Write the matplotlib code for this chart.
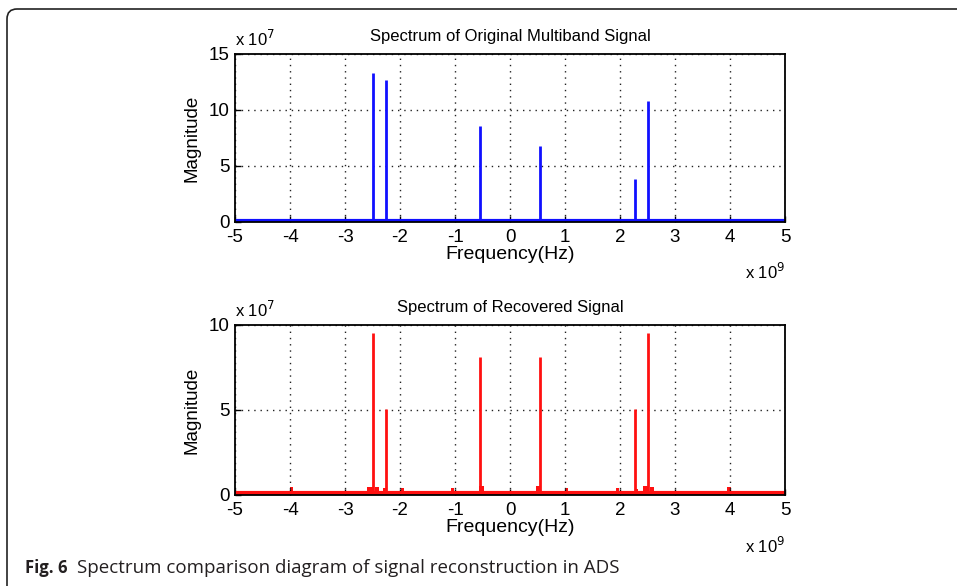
import matplotlib.pyplot as plt
from matplotlib.patches import FancyBboxPatch

# frequencies in units of 1e9 Hz, magnitudes in units of 1e7
orig_freq = [-2.5, -2.26, -0.55, 0.55, 2.27, 2.5]
orig_mag = [13.3, 12.7, 8.6, 6.8, 3.8, 10.8]
orig_floor = 0.12

rec_freq = [-2.5, -2.26, -0.55, 0.55, 2.27, 2.5]
rec_mag = [9.5, 5.05, 8.1, 8.1, 5.05, 9.5]
rec_floor = 0.1

# small side lobes in the recovered spectrum
bump_freq = [-3.98, -2.55, -2.42, -2.28, -1.96, -1.04, -0.52, 0.52, 1.03, 1.96, 2.3, 2.47, 2.58, 3.98]
bump_width = [0.05, 0.1, 0.07, 0.05, 0.06, 0.06, 0.1, 0.1, 0.05, 0.05, 0.05, 0.1, 0.07, 0.06]
bump_mag = [0.45, 0.45, 0.45, 0.4, 0.4, 0.4, 0.5, 0.5, 0.4, 0.4, 0.35, 0.5, 0.45, 0.45]

xlim = [-5, 5]
xticks = [-5, -4, -3, -2, -1, 0, 1, 2, 3, 4, 5]

plt.rcParams['font.family'] = ['Liberation Sans', 'DejaVu Sans']
plt.rcParams['axes.unicode_minus'] = False

fig = plt.figure(figsize=(9.57, 5.86), dpi=100)

# rounded frame around the figure
frame = FancyBboxPatch((7, -30), 1000, 586 - 9 + 30, boxstyle="round,pad=0,rounding_size=10",
                       transform=None, fill=False, edgecolor='#222222', lw=1.2)
fig.patches.append(frame)


def style(ax, ylim, yticks, title):
    ax.set_xlim(xlim)
    ax.set_ylim(ylim)
    ax.set_xticks(xticks)
    ax.set_yticks(yticks)
    ax.grid(True, color='#222222', linestyle=(0, (1, 3.5)), linewidth=1.0)
    ax.tick_params(direction='in', length=4, width=1, labelsize=13.5)
    ax.tick_params(axis='x', pad=5)
    ax.tick_params(axis='y', pad=4)
    for s in ax.spines.values():
        s.set_linewidth(1.3)
    ax.set_title(title, fontsize=12, pad=9)
    ax.set_xlabel('Frequency(Hz)', fontsize=14, labelpad=0)
    ax.set_ylabel('Magnitude', fontsize=13.5, labelpad=6)
    ax.text(0.0, 1.03, r'x 10$^7$', transform=ax.transAxes, fontsize=12, ha='left', va='bottom')
    ax.text(1.0, -0.24, r'x 10$^9$', transform=ax.transAxes, fontsize=12, ha='right', va='top')


ax1 = fig.add_axes([0.2456, 0.6212, 0.5747, 0.2867])
ax1.plot(xlim, [orig_floor, orig_floor], color='#1010ff', lw=3)
ax1.vlines(orig_freq, 0, orig_mag, color='#1010ff', lw=2)
style(ax1, [0, 15], [0, 5, 10, 15], 'Spectrum of Original Multiband Signal')

ax2 = fig.add_axes([0.2456, 0.1553, 0.5747, 0.2901])
ax2.plot(xlim, [rec_floor, rec_floor], color='#ff1010', lw=3)
ax2.bar(bump_freq, bump_mag, width=bump_width, color='#ff1010', linewidth=0)
ax2.vlines(rec_freq, 0, rec_mag, color='#ff1010', lw=2)
style(ax2, [0, 10], [0, 5, 10], 'Spectrum of Recovered Signal')

fig.text(25 / 957, 1 - 568 / 586, 'Fig. 6', fontsize=12, fontweight='bold', color='#231f20',
         family=['Open Sans', 'DejaVu Sans'], va='center')
fig.text(77 / 957, 1 - 568 / 586, 'Spectrum comparison diagram of signal reconstruction in ADS', fontsize=13.5,
         color='#231f20', family=['Open Sans', 'DejaVu Sans'], va='center')

fig.savefig('out.png', dpi=100)
